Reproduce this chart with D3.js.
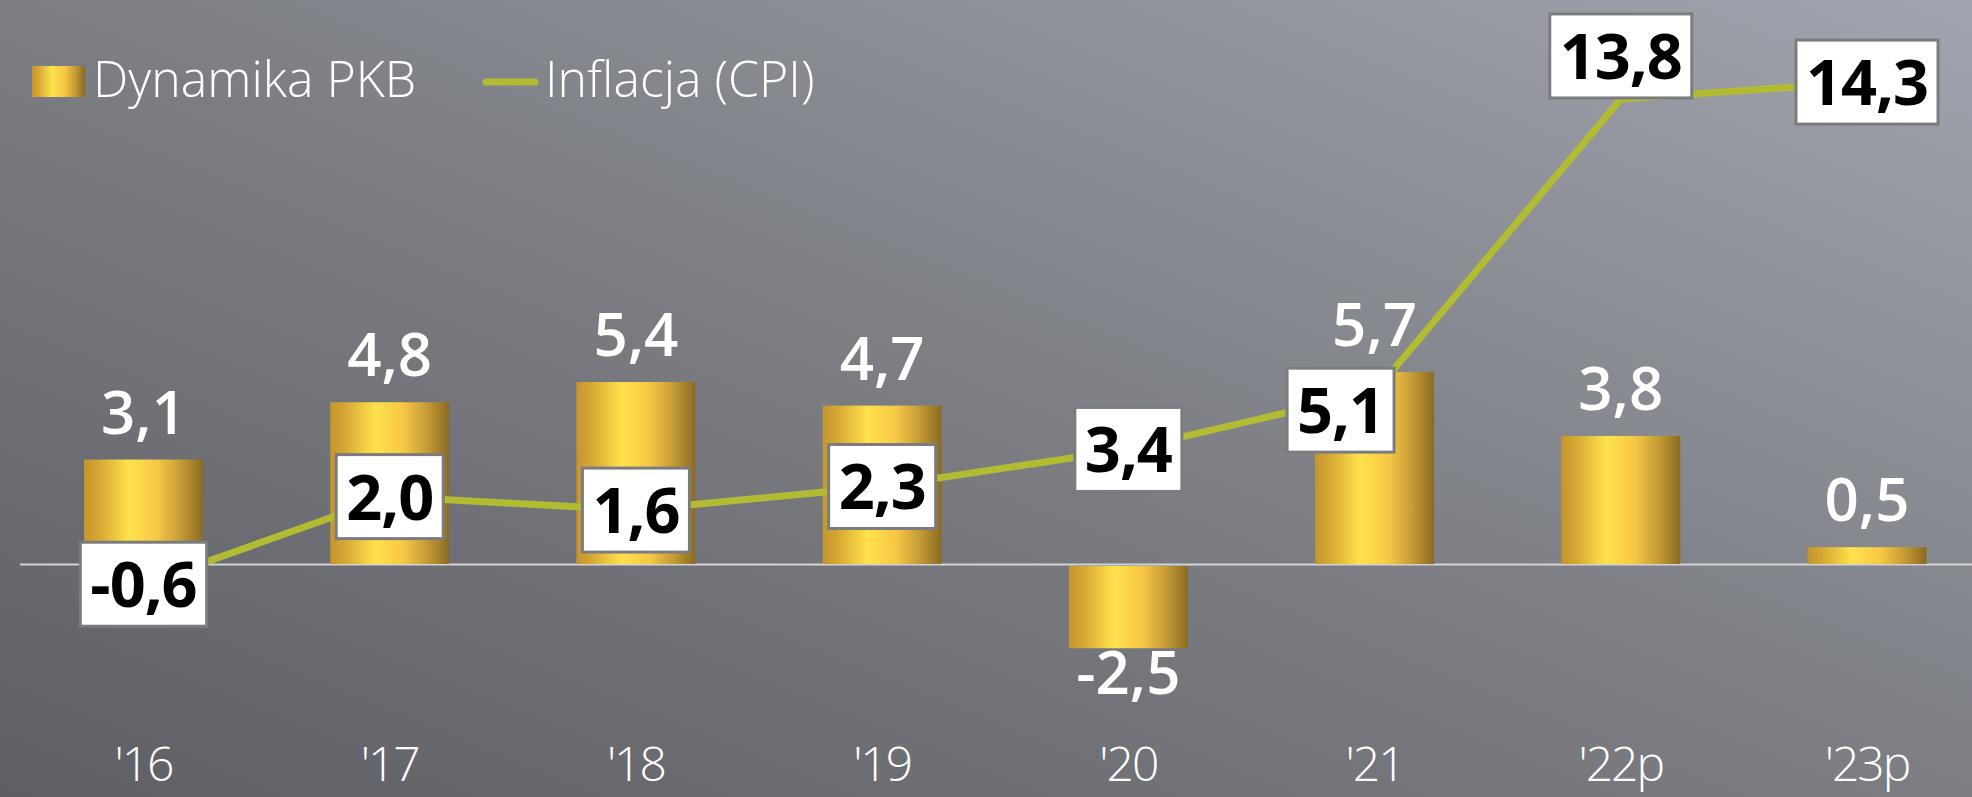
<!DOCTYPE html>
<html>
<head>
<meta charset="utf-8">
<script src="https://cdn.jsdelivr.net/npm/d3@7"></script>
<style>
  html, body { margin: 0; padding: 0; overflow: hidden; }
  svg { display: block; font-family: "Open Sans", sans-serif; }
</style>
</head>
<body>
<svg id="chart" width="1972" height="797"></svg>
<script>
// chart values
var years = ["'16", "'17", "'18", "'19", "'20", "'21", "'22p", "'23p"];
var gdp = [3.1, 4.8, 5.4, 4.7, -2.5, 5.7, 3.8, 0.5];
var cpi = [-0.6, 2.0, 1.6, 2.3, 3.4, 5.1, 13.8, 14.3];
// where each CPI box sits relative to its point
var cpiPlace = ["mid", "mid", "mid", "mid", "mid", "lowleft", "above", "mid"];
var legendNames = ["Dynamika PKB", "Inflacja (CPI)"];

var fmt = function(v) { return d3.format(".1f")(v).replace(".", ",").replace("−", "-"); };

var W = 1972, H = 797;
var svg = d3.select("#chart");
var defs = svg.append("defs");

// background
var bg = defs.append("linearGradient").attr("id", "bg")
  .attr("x1", 0).attr("y1", 1).attr("x2", 1).attr("y2", 0);
bg.append("stop").attr("offset", "0%").attr("stop-color", "#5e5f64");
bg.append("stop").attr("offset", "50%").attr("stop-color", "#7c7e84");
bg.append("stop").attr("offset", "100%").attr("stop-color", "#a1a4ae");
svg.append("rect").attr("width", W).attr("height", H).attr("fill", "url(#bg)");

// gold bars
var gold = defs.append("linearGradient").attr("id", "gold")
  .attr("x1", 0).attr("y1", 0).attr("x2", 1).attr("y2", 0);
[["0%", "#c4952d"], ["12%", "#d6a634"], ["38%", "#ffe24c"], ["62%", "#f7c645"],
 ["82%", "#c39a35"], ["100%", "#8a6a22"]].forEach(function(s) {
  gold.append("stop").attr("offset", s[0]).attr("stop-color", s[1]);
});

var x = d3.scalePoint().domain(years).range([143.5, 1867]);
var barW = 119;
var y = d3.scaleLinear().domain([-3, 15]).range([665.1, 58.5]);

// zero line
svg.append("line")
  .attr("x1", 20).attr("x2", W)
  .attr("y1", y(0) + 0.5).attr("y2", y(0) + 0.5)
  .attr("stroke", "#d4d4d6").attr("stroke-width", 2.2);

// bars
svg.selectAll("rect.bar").data(gdp).enter().append("rect")
  .attr("class", "bar")
  .attr("x", function(d, i) { return x(years[i]) - barW / 2; })
  .attr("y", function(d) { return d >= 0 ? y(d) : y(0) + 2; })
  .attr("width", barW)
  .attr("height", function(d) { return d >= 0 ? y(0) - y(d) : y(d) - y(0) - 2; })
  .attr("fill", "url(#gold)");

// bar values
svg.selectAll("text.gval").data(gdp).enter().append("text")
  .attr("class", "gval")
  .attr("x", function(d, i) { return x(years[i]); })
  .attr("y", function(d) { return d >= 0 ? y(d) - 26 : y(d) + 46; })
  .attr("text-anchor", "middle")
  .attr("font-size", 60).attr("font-weight", 600)
  .attr("fill", "#ffffff")
  .text(fmt);

// CPI line
var line = d3.line()
  .x(function(d, i) { return x(years[i]); })
  .y(function(d) { return y(d); });
svg.append("path").datum(cpi)
  .attr("d", line)
  .attr("fill", "none")
  .attr("stroke", "#b3bb33")
  .attr("stroke-width", 7);

// CPI boxes
var offs = { mid: [0, 0], lowleft: [-34, 18], above: [0, -43] };
var boxes = svg.selectAll("g.cbox").data(cpi).enter().append("g")
  .attr("class", "cbox")
  .attr("transform", function(d, i) {
    var o = offs[cpiPlace[i]];
    return "translate(" + (x(years[i]) + o[0]) + "," + (y(d) + o[1]) + ")";
  });
boxes.append("rect");
boxes.append("text")
  .attr("text-anchor", "middle")
  .attr("y", 23)
  .attr("font-size", 63).attr("font-weight", 700)
  .attr("letter-spacing", -1)
  .attr("fill", "#000")
  .text(fmt);
boxes.each(function() {
  var g = d3.select(this);
  var w = g.select("text").node().getBBox().width + 20;
  g.select("rect")
    .attr("x", -w / 2).attr("y", -42)
    .attr("width", w).attr("height", 84)
    .attr("fill", "#ffffff")
    .attr("stroke", "#7b7c80").attr("stroke-width", 3);
});

// x labels
svg.selectAll("text.xl").data(years).enter().append("text")
  .attr("class", "xl")
  .attr("x", function(d) { return x(d); })
  .attr("y", 781)
  .attr("text-anchor", "middle")
  .attr("font-size", 48).attr("font-weight", 300)
  .attr("letter-spacing", -2)
  .attr("fill", "#ffffff")
  .text(function(d) { return d; });

// legend
var lg = svg.append("g");
lg.append("rect").attr("x", 32).attr("y", 66).attr("width", 53).attr("height", 31)
  .attr("fill", "url(#gold)");
lg.append("text").attr("x", 93).attr("y", 97)
  .attr("font-size", 50).attr("font-weight", 300).attr("fill", "#fff")
  .text(legendNames[0]);
lg.append("line").attr("x1", 486).attr("x2", 535).attr("y1", 82).attr("y2", 82)
  .attr("stroke", "#b3bb33").attr("stroke-width", 7).attr("stroke-linecap", "round");
lg.append("text").attr("x", 545).attr("y", 97)
  .attr("font-size", 50).attr("font-weight", 300).attr("fill", "#fff")
  .text(legendNames[1]);
</script>
</body>
</html>
